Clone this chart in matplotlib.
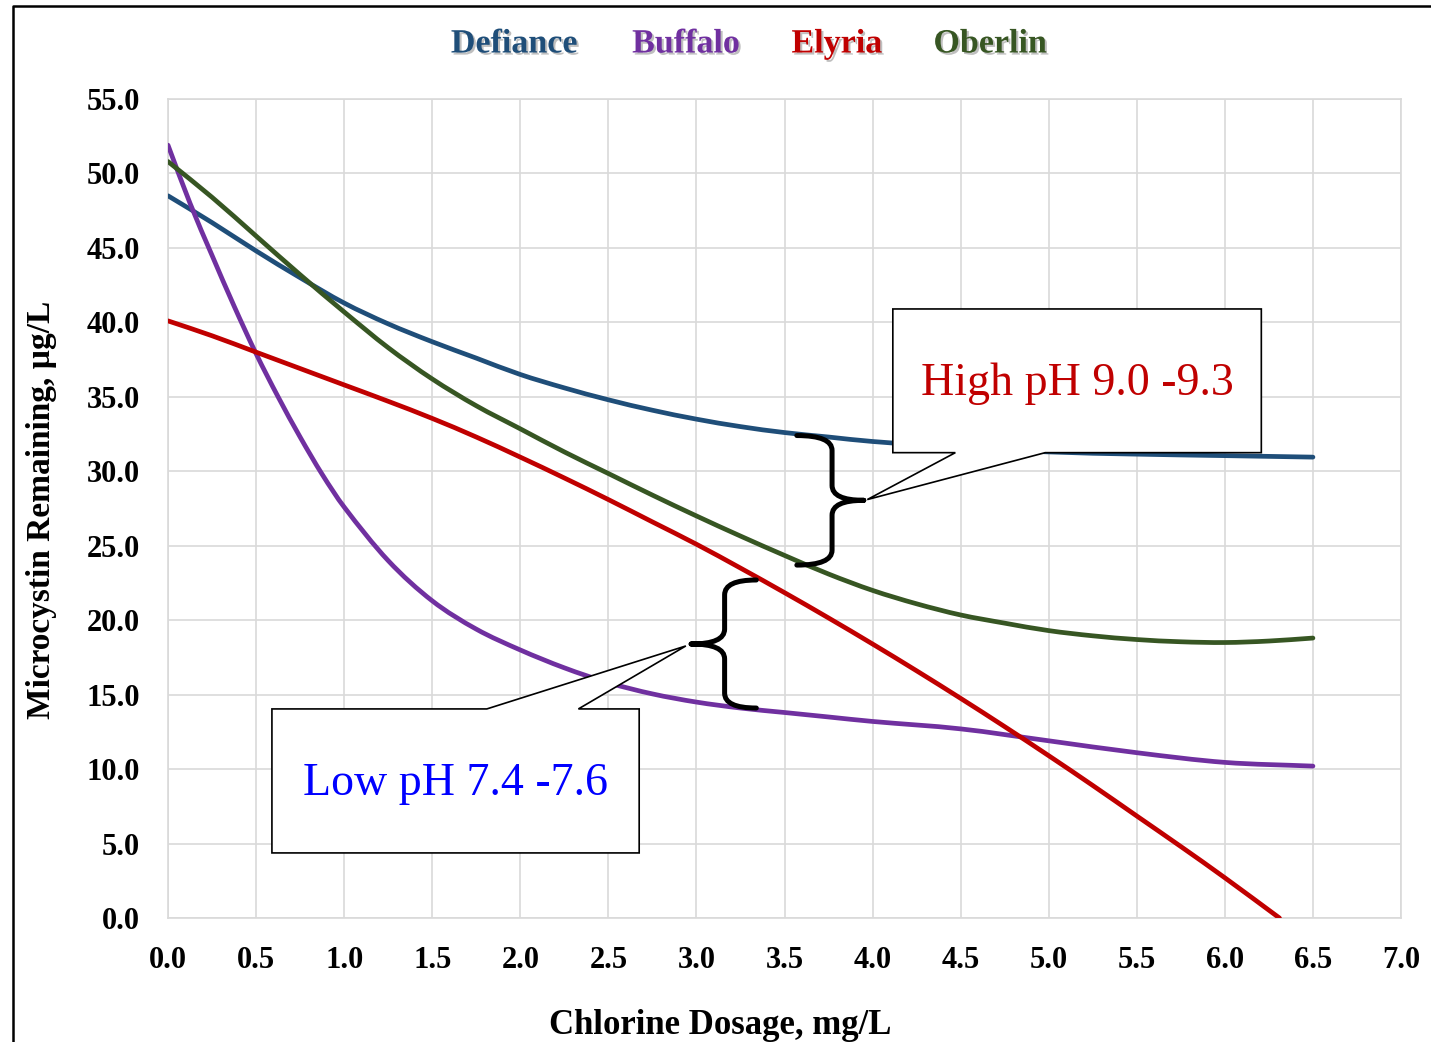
import matplotlib.pyplot as plt
import matplotlib.patheffects as pe
from matplotlib.path import Path
from matplotlib.patches import PathPatch, Polygon
from matplotlib.lines import Line2D

# --- data ---
defiance_x = [0, 0.25, 0.5, 0.75, 1.0, 1.25, 1.5, 1.75, 2.0, 2.25, 2.5, 2.75, 3.0,
              3.25, 3.5, 3.75, 4.0, 4.5, 5.0, 5.5, 6.0, 6.5]
defiance_y = [48.5, 46.7, 44.8, 43.0, 41.3, 39.9, 38.7, 37.6, 36.5, 35.6, 34.8, 34.1, 33.5,
              33.0, 32.6, 32.3, 32.0, 31.6, 31.3, 31.15, 31.05, 30.95]

buffalo_x = [0, 0.125, 0.25, 0.375, 0.5, 0.625, 0.75, 0.875, 1.0, 1.25, 1.5, 1.75, 2.0,
             2.25, 2.5, 2.75, 3.0, 3.25, 3.5, 3.75, 4.0, 4.5, 5.0, 5.5, 6.0, 6.5]
buffalo_y = [51.9, 48.0, 44.5, 41.1, 37.9, 35.0, 32.3, 29.8, 27.6, 24.0, 21.3, 19.4, 18.0,
             16.8, 15.8, 15.05, 14.5, 14.1, 13.8, 13.5, 13.2, 12.7, 11.9, 11.1, 10.45, 10.2]

elyria_x = [0, 0.25, 0.5, 0.75, 1.0, 1.25, 1.5, 1.75, 2.0, 2.25, 2.5, 2.75, 3.0, 3.25,
            3.5, 3.75, 4.0, 4.25, 4.5, 4.75, 5.0, 5.25, 5.5, 5.75, 6.0, 6.31]
elyria_y = [40.1, 39.1, 38.0, 36.9, 35.8, 34.7, 33.55, 32.3, 30.95, 29.55, 28.1, 26.6, 25.1,
            23.5, 21.85, 20.15, 18.4, 16.6, 14.75, 12.85, 10.9, 8.9, 6.85, 4.8, 2.7, 0.0]

oberlin_x = [0, 0.25, 0.5, 0.75, 1.0, 1.25, 1.5, 1.75, 2.0, 2.25, 2.5, 2.75, 3.0, 3.25,
             3.5, 3.75, 4.0, 4.25, 4.5, 4.75, 5.0, 5.25, 5.5, 5.75, 6.0, 6.25, 6.5]
oberlin_y = [50.8, 48.4, 45.8, 43.2, 40.7, 38.3, 36.2, 34.4, 32.85, 31.3, 29.85, 28.4, 27.0,
             25.65, 24.35, 23.1, 22.0, 21.1, 20.35, 19.8, 19.3, 18.95, 18.7, 18.55, 18.5,
             18.6, 18.8]

series_names = ['Defiance', 'Buffalo', 'Elyria', 'Oberlin']
series_colors = ['#1F4E79', '#7030A0', '#C00000', '#375623']

x_ticks = [0.0, 0.5, 1.0, 1.5, 2.0, 2.5, 3.0, 3.5, 4.0, 4.5, 5.0, 5.5, 6.0, 6.5, 7.0]
y_ticks = [0, 5, 10, 15, 20, 25, 30, 35, 40, 45, 50, 55]

W, H = 1431, 1042
fig = plt.figure(figsize=(W / 100, H / 100), dpi=100)
ax = fig.add_axes([168 / W, 124 / H, 1233 / W, 819 / H])

serif = 'Liberation Serif'


def smooth_path(xs, ys):
    # smoothed line like the spreadsheet: cubic Bezier through every read point
    n = len(xs)
    slopes = []
    for i in range(n):
        a, b = max(i - 1, 0), min(i + 1, n - 1)
        slopes.append((ys[b] - ys[a]) / (xs[b] - xs[a]))
    verts, codes = [(xs[0], ys[0])], [Path.MOVETO]
    for i in range(n - 1):
        d = (xs[i + 1] - xs[i]) / 3
        verts += [(xs[i] + d, ys[i] + slopes[i] * d),
                  (xs[i + 1] - d, ys[i + 1] - slopes[i + 1] * d),
                  (xs[i + 1], ys[i + 1])]
        codes += [Path.CURVE4] * 3
    return Path(verts, codes)


for xs, ys, c in zip([defiance_x, buffalo_x, elyria_x, oberlin_x],
                     [defiance_y, buffalo_y, elyria_y, oberlin_y], series_colors):
    ax.add_patch(PathPatch(smooth_path(xs, ys), fill=False, edgecolor=c, lw=3.4,
                           capstyle='round', zorder=3))

ax.set_xlim(0, 7)
ax.set_ylim(0, 55)
ax.set_xticks(x_ticks)
ax.set_yticks(y_ticks)
ax.set_xticklabels([f'{v:.1f}' for v in x_ticks], family=serif, fontweight='bold', fontsize=22)
ax.set_yticklabels([f'{v:.1f}' for v in y_ticks], family=serif, fontweight='bold', fontsize=22)
ax.tick_params(length=0, pad=20)
ax.grid(True, color='#d9d9d9', lw=1.2, zorder=0)
ax.set_axisbelow(True)
for s in ax.spines.values():
    s.set_color('#d9d9d9')
    s.set_linewidth(1.2)

# axis titles
fig.text(720 / W, 1 - 1025 / H, 'Chlorine Dosage, mg/L', family=serif, fontweight='bold',
         fontsize=25, ha='center', va='center')
fig.text(42 / W, 1 - 510 / H, 'Microcystin Remaining, µg/L', family=serif, fontweight='bold',
         fontsize=24, ha='center', va='center', rotation=90)

# legend (coloured names with a soft shadow)
shadow = [pe.withSimplePatchShadow(offset=(1.5, -1.5), shadow_rgbFace='#808080', alpha=0.5)]
for name, c, px in zip(series_names, series_colors, [514, 686, 837, 990]):
    fig.text(px / W, 1 - 44 / H, name, family=serif, fontweight='bold', fontsize=24.5,
             color=c, ha='center', va='center', path_effects=shadow)


def brace(x_end, x_spine, x_tip, y_top, y_bot, r=1.0):
    y_mid = (y_top + y_bot) / 2
    verts = [(x_end, y_top), (x_spine, y_top), (x_spine, y_top - r),
             (x_spine, y_mid + r), (x_spine, y_mid), (x_tip, y_mid),
             (x_tip, y_mid), (x_spine, y_mid), (x_spine, y_mid - r),
             (x_spine, y_bot + r), (x_spine, y_bot), (x_end, y_bot)]
    codes = [Path.MOVETO, Path.CURVE3, Path.CURVE3, Path.LINETO, Path.CURVE3, Path.CURVE3,
             Path.MOVETO, Path.CURVE3, Path.CURVE3, Path.LINETO, Path.CURVE3, Path.CURVE3]
    ax.add_patch(PathPatch(Path(verts, codes), fill=False, lw=3.6, color='black',
                           capstyle='round', zorder=5))


brace(3.57, 3.77, 3.95, 32.4, 23.7)
brace(3.34, 3.16, 2.97, 22.7, 14.1)

# callout boxes
high_box = [(4.115, 40.9), (6.207, 40.9), (6.207, 31.25), (4.98, 31.25), (3.97, 28.1),
            (4.47, 31.25), (4.115, 31.25)]
low_box = [(0.59, 14.04), (1.81, 14.04), (2.94, 18.27), (2.33, 14.04), (2.675, 14.04),
           (2.675, 4.37), (0.59, 4.37)]
for pts in (high_box, low_box):
    ax.add_patch(Polygon(pts, closed=True, facecolor='white', edgecolor='black', lw=1.2, zorder=6))

ax.text(5.16, 35.9, 'High pH 9.0 -9.3', family=serif, fontsize=33, color='#C00000',
        ha='center', va='center', zorder=7)
ax.text(1.63, 9.0, 'Low pH 7.4 -7.6', family=serif, fontsize=33, color='#0000FF',
        ha='center', va='center', zorder=7)

# outer frame (left and top edges visible)
fig.add_artist(Line2D([12.5 / W, 12.5 / W, 1], [0, 1 - 6 / H, 1 - 6 / H],
                      transform=fig.transFigure, color='black', lw=1.8))

fig.savefig('out.png', dpi=100)
